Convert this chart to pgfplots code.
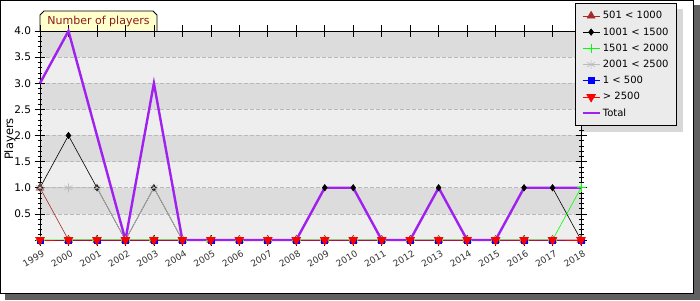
\documentclass[border=0pt]{standalone}
\usepackage{pgfplots}
\pgfplotsset{compat=1.18}
\usepackage{fontspec}
\setmainfont{DejaVu Sans}
\definecolor{bandD}{HTML}{DCDCDC}
\definecolor{bandL}{HTML}{EEEEEE}
\definecolor{tot}{HTML}{A020F0}
\definecolor{brn}{HTML}{A52A2A}
\definecolor{grn}{HTML}{00FF00}
\definecolor{gry}{HTML}{BBBBBB}
\definecolor{frameshadow}{HTML}{606060}
\definecolor{legshadow}{HTML}{D8D8D8}
\definecolor{legfill}{HTML}{EBEBEB}
\definecolor{tabfill}{HTML}{FFFFCC}
\definecolor{tabtext}{HTML}{8B1A1A}
\definecolor{ticktext}{HTML}{333333}
\pgfdeclarelayer{framelayer}
\pgfdeclarelayer{shadowlayer}
\pgfsetlayers{framelayer,shadowlayer,main}
\begin{document}
\begin{tikzpicture}
\begin{pgfonlayer}{framelayer}
\fill[frameshadow] (5pt,0pt) rectangle (700pt,295pt);
\fill[white] (0pt,6pt) rectangle (694pt,300pt);
\draw[black, line width=1pt] (0.5pt,6.5pt) rectangle (693.5pt,299.5pt);
\end{pgfonlayer}
\draw[fill=tabfill, line width=0.8pt] (40pt,269pt) -- (40pt,285pt) -- (44pt,289pt) -- (153pt,289pt) -- (157pt,285pt) -- (157pt,269pt);
\node[text=tabtext, font=\fontsize{11}{12}\selectfont] at (98.5pt,278.5pt) {Number of players};
% plot background bands
\fill[bandL] (40pt,60pt) rectangle (581pt,269pt);
\fill[bandD] (40pt,86.125pt) rectangle (581pt,112.25pt);
\fill[bandD] (40pt,138.375pt) rectangle (581pt,164.5pt);
\fill[bandD] (40pt,190.625pt) rectangle (581pt,216.75pt);
\fill[bandD] (40pt,242.875pt) rectangle (581pt,269pt);
\begin{axis}[
  at={(40pt,60pt)}, anchor=south west,
  scale only axis, width=541pt, height=209pt,
  xmin=1999, xmax=2018, ymin=0, ymax=4,
  clip=false,
  axis line style={line width=0.8pt},
  xtick={1999,2000,...,2018},
  xticklabel style={rotate=30, anchor=north east, font=\fontsize{9}{10}\selectfont, text=ticktext, inner sep=0.5pt, yshift=-4pt},
  /pgf/number format/1000 sep={},
  /pgf/number format/assume math mode=true,
  ytick={0,0.5,...,4},
  yticklabels={,0.5,1.0,1.5,2.0,2.5,3.0,3.5,4.0},
  yticklabel style={font=\fontsize{10.5}{12}\selectfont},
  minor y tick num=4,
  tick align=center,
  major tick length=11pt, minor tick length=5pt,
  tick style={black, line width=0.6pt},
  ymajorgrids,
  major grid style={gray!55, dash pattern=on 4pt off 2pt, line width=0.6pt},
  ylabel={Players},
  ylabel style={at={(axis description cs:-0.0555,0.483)}, anchor=center, font=\fontsize{11.5}{12}\selectfont},
  legend cell align=left,
  legend style={name=leg, at={(0.9889,1.134)}, anchor=north west, fill=legfill, draw=black, line width=0.8pt,
    font=\fontsize{10}{12}\selectfont, row sep=3.3pt, inner sep=6pt},
]
\addplot[brn, line width=0.6pt, mark=triangle*, mark size=4.5pt, mark options={fill=brn, draw=brn, solid}] coordinates {
(1999,1)(2000,0)(2001,0)(2002,0)(2003,0)(2004,0)(2005,0)(2006,0)(2007,0)(2008,0)
(2009,0)(2010,0)(2011,0)(2012,0)(2013,0)(2014,0)(2015,0)(2016,0)(2017,0)(2018,0)};
\addlegendentry{501 < 1000}
\addplot[black, line width=0.6pt, mark=diamond*, mark size=3.2pt, mark options={fill=black, solid}] coordinates {
(1999,1)(2000,2)(2001,1)(2002,0)(2003,1)(2004,0)(2005,0)(2006,0)(2007,0)(2008,0)
(2009,1)(2010,1)(2011,0)(2012,0)(2013,1)(2014,0)(2015,0)(2016,1)(2017,1)(2018,0)};
\addlegendentry{1001 < 1500}
\addplot[grn, line width=0.6pt, mark=+, mark size=4.5pt, mark options={solid}] coordinates {
(1999,0)(2000,0)(2001,0)(2002,0)(2003,0)(2004,0)(2005,0)(2006,0)(2007,0)(2008,0)
(2009,0)(2010,0)(2011,0)(2012,0)(2013,0)(2014,0)(2015,0)(2016,0)(2017,0)(2018,1)};
\addlegendentry{1501 < 2000}
\addplot[gry, line width=0.6pt, mark=asterisk, mark size=4.5pt, mark options={solid}] coordinates {
(1999,1)(2000,1)(2001,1)(2002,0)(2003,1)(2004,0)(2005,0)(2006,0)(2007,0)(2008,0)
(2009,0)(2010,0)(2011,0)(2012,0)(2013,0)(2014,0)(2015,0)(2016,0)(2017,0)(2018,0)};
\addlegendentry{2001 < 2500}
\addplot[blue, line width=0.6pt, mark=square*, mark size=3pt, mark options={fill=blue, solid}] coordinates {
(1999,0)(2000,0)(2001,0)(2002,0)(2003,0)(2004,0)(2005,0)(2006,0)(2007,0)(2008,0)
(2009,0)(2010,0)(2011,0)(2012,0)(2013,0)(2014,0)(2015,0)(2016,0)(2017,0)(2018,0)};
\addlegendentry{1 < 500}
\addplot[red, line width=0.6pt, mark=triangle*, mark size=5pt, mark options={fill=red, rotate=180, solid}] coordinates {
(1999,0)(2000,0)(2001,0)(2002,0)(2003,0)(2004,0)(2005,0)(2006,0)(2007,0)(2008,0)
(2009,0)(2010,0)(2011,0)(2012,0)(2013,0)(2014,0)(2015,0)(2016,0)(2017,0)(2018,0)};
\addlegendentry{> 2500}
\addplot[tot, line width=2.4pt, no marks] coordinates {
(1999,3)(2000,4)(2001,2)(2002,0)(2003,3)(2004,0)(2005,0)(2006,0)(2007,0)(2008,0)
(2009,1)(2010,1)(2011,0)(2012,0)(2013,1)(2014,0)(2015,0)(2016,1)(2017,1)(2018,1)};
\addlegendentry{Total}
\end{axis}
\begin{pgfonlayer}{shadowlayer}
\fill[legshadow] ([shift={(6pt,-6pt)}]leg.south west) rectangle ([shift={(6pt,-6pt)}]leg.north east);
\end{pgfonlayer}
\end{tikzpicture}
\end{document}
